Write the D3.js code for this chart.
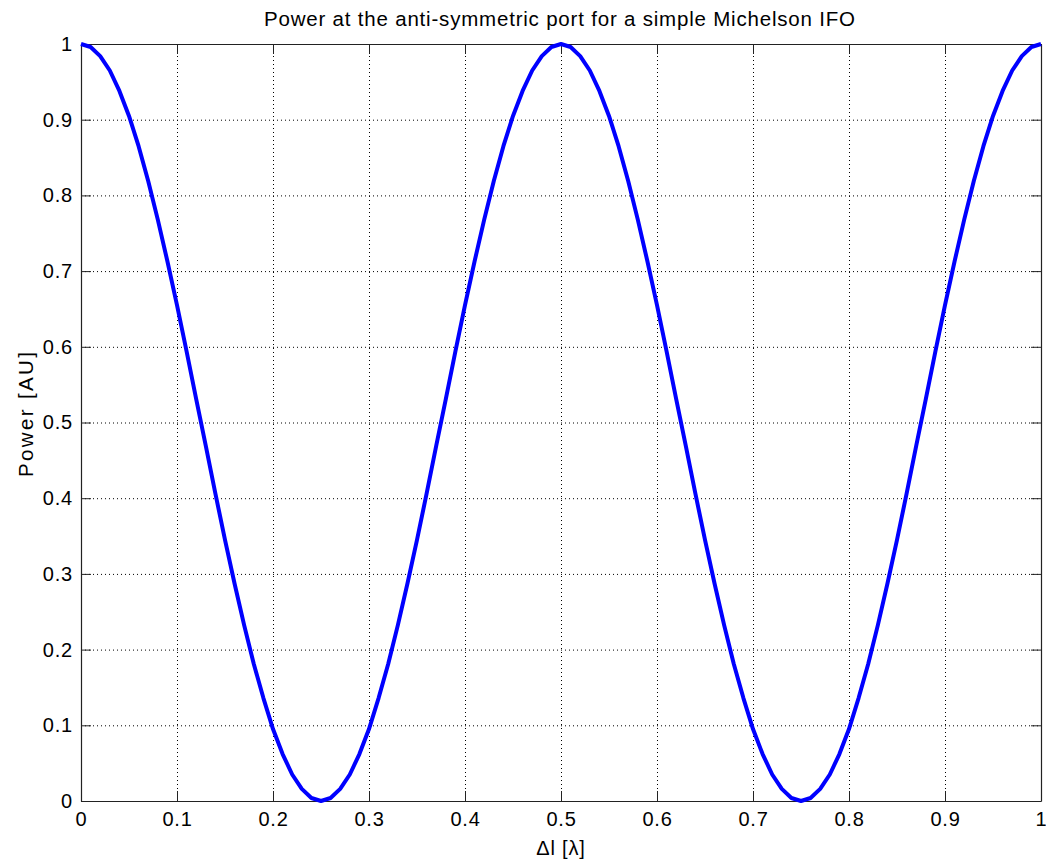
<!DOCTYPE html>
<html>
<head>
<meta charset="utf-8">
<script src="https://cdn.jsdelivr.net/npm/d3@7"></script>
<style>
  body { margin: 0; background: #fff; }
  text { font-family: "Liberation Sans", Arial, sans-serif; fill: #000; }
</style>
</head>
<body>
<div id="chart"></div>
<script>
// Chart data
var deltaL = [0, 0.01, 0.02, 0.03, 0.04, 0.05, 0.06, 0.07, 0.08, 0.09,
  0.10, 0.11, 0.12, 0.13, 0.14, 0.15, 0.16, 0.17, 0.18, 0.19,
  0.20, 0.21, 0.22, 0.23, 0.24, 0.25, 0.26, 0.27, 0.28, 0.29,
  0.30, 0.31, 0.32, 0.33, 0.34, 0.35, 0.36, 0.37, 0.38, 0.39,
  0.40, 0.41, 0.42, 0.43, 0.44, 0.45, 0.46, 0.47, 0.48, 0.49,
  0.50, 0.51, 0.52, 0.53, 0.54, 0.55, 0.56, 0.57, 0.58, 0.59,
  0.60, 0.61, 0.62, 0.63, 0.64, 0.65, 0.66, 0.67, 0.68, 0.69,
  0.70, 0.71, 0.72, 0.73, 0.74, 0.75, 0.76, 0.77, 0.78, 0.79,
  0.80, 0.81, 0.82, 0.83, 0.84, 0.85, 0.86, 0.87, 0.88, 0.89,
  0.90, 0.91, 0.92, 0.93, 0.94, 0.95, 0.96, 0.97, 0.98, 0.99, 1.00];
var power = [1.000, 0.996, 0.984, 0.965, 0.938, 0.905, 0.865, 0.819, 0.768, 0.713,
  0.655, 0.594, 0.531, 0.469, 0.406, 0.345, 0.287, 0.232, 0.181, 0.136,
  0.095, 0.062, 0.035, 0.016, 0.004, 0.000, 0.004, 0.016, 0.035, 0.062,
  0.095, 0.136, 0.181, 0.232, 0.287, 0.345, 0.406, 0.469, 0.531, 0.594,
  0.655, 0.713, 0.768, 0.819, 0.865, 0.905, 0.938, 0.965, 0.984, 0.996,
  1.000, 0.996, 0.984, 0.965, 0.938, 0.905, 0.865, 0.819, 0.768, 0.713,
  0.655, 0.594, 0.531, 0.469, 0.406, 0.345, 0.287, 0.232, 0.181, 0.136,
  0.095, 0.062, 0.035, 0.016, 0.004, 0.000, 0.004, 0.016, 0.035, 0.062,
  0.095, 0.136, 0.181, 0.232, 0.287, 0.345, 0.406, 0.469, 0.531, 0.594,
  0.655, 0.713, 0.768, 0.819, 0.865, 0.905, 0.938, 0.965, 0.984, 0.996, 1.000];
var xTicks = [0, 0.1, 0.2, 0.3, 0.4, 0.5, 0.6, 0.7, 0.8, 0.9, 1];
var yTicks = [0, 0.1, 0.2, 0.3, 0.4, 0.5, 0.6, 0.7, 0.8, 0.9, 1];

var svgWidth = 1046;
var svgHeight = 861;
var margin = { top: 44, right: 5, bottom: 60, left: 81 };
var width = 1041 - margin.left;
var height = 801 - margin.top;

var svg = d3.select("#chart")
  .append("svg")
  .attr("width", svgWidth)
  .attr("height", svgHeight);

var chartGroup = svg.append("g")
  .attr("transform", `translate(${margin.left}, ${margin.top})`);

var xScale = d3.scaleLinear().domain([0, 1]).range([0, width]);
var yScale = d3.scaleLinear().domain([0, 1]).range([height, 0]);

// dotted grid
chartGroup.append("g")
  .selectAll("line")
  .data(xTicks.slice(1, -1))
  .enter()
  .append("line")
  .attr("x1", d => xScale(d) + 0.5)
  .attr("x2", d => xScale(d) + 0.5)
  .attr("y1", 0)
  .attr("y2", height)
  .attr("stroke", "#000")
  .attr("stroke-width", 1)
  .attr("stroke-dasharray", "1,3");

chartGroup.append("g")
  .selectAll("line")
  .data(yTicks.slice(1, -1))
  .enter()
  .append("line")
  .attr("x1", 0)
  .attr("x2", width)
  .attr("y1", d => yScale(d) + 0.5)
  .attr("y2", d => yScale(d) + 0.5)
  .attr("stroke", "#000")
  .attr("stroke-width", 1)
  .attr("stroke-dasharray", "1,3");

// axes with inward ticks (box on)
var bottomAxis = d3.axisBottom(xScale).tickValues(xTicks).tickSizeInner(-10).tickSizeOuter(0).tickPadding(11).tickFormat(d3.format("~g"));
var leftAxis = d3.axisLeft(yScale).tickValues(yTicks).tickSizeInner(-10).tickSizeOuter(0).tickPadding(8).tickFormat(d3.format("~g"));
var topAxis = d3.axisTop(xScale).tickValues(xTicks).tickSizeInner(-10).tickSizeOuter(0).tickFormat("");
var rightAxis = d3.axisRight(yScale).tickValues(yTicks).tickSizeInner(-10).tickSizeOuter(0).tickFormat("");

var xAxis = chartGroup.append("g")
  .attr("transform", `translate(0, ${height})`)
  .call(bottomAxis);
var yAxis = chartGroup.append("g").call(leftAxis);
chartGroup.append("g").call(topAxis);
chartGroup.append("g").attr("transform", `translate(${width}, 0)`).call(rightAxis);

chartGroup.selectAll(".domain").attr("stroke", "#222").attr("stroke-width", 1.2);
chartGroup.selectAll(".tick line").attr("stroke", "#222");
chartGroup.selectAll(".tick text")
  .style("font-size", "20px")
  .style("letter-spacing", "0.8px")
  .style("font-family", "'Liberation Sans', Arial, sans-serif");

// the curve
var line = d3.line()
  .x((d, i) => xScale(deltaL[i]))
  .y(d => yScale(d));

chartGroup.append("path")
  .datum(power)
  .attr("fill", "none")
  .attr("stroke", "#0000ff")
  .attr("stroke-width", 4)
  .attr("stroke-linejoin", "round")
  .attr("d", line);

// title and axis labels
svg.append("text")
  .attr("x", 264)
  .attr("y", 26)
  .attr("textLength", 591)
  .attr("lengthAdjust", "spacing")
  .style("font-size", "20.5px")
  .text("Power at the anti-symmetric port for a simple Michelson IFO");

svg.append("text")
  .attr("x", margin.left + width / 2)
  .attr("y", 855)
  .attr("text-anchor", "middle")
  .style("font-size", "20px")
  .style("letter-spacing", "0.8px")
  .text("Δl [λ]");

svg.append("text")
  .attr("transform", `translate(33, 477) rotate(-90)`)
  .attr("textLength", 125)
  .attr("lengthAdjust", "spacing")
  .style("font-size", "20.5px")
  .text("Power [AU]");
</script>
</body>
</html>
